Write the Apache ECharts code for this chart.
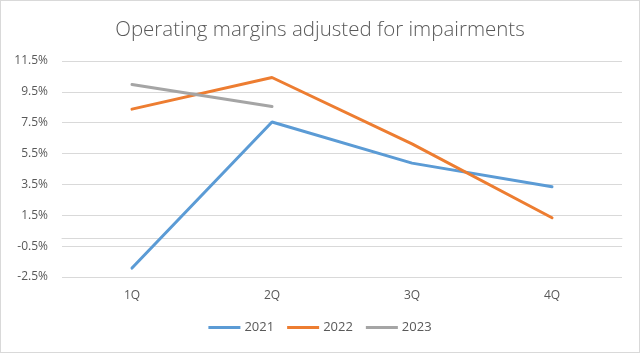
<!DOCTYPE html>
<html><head><meta charset="utf-8">
<script src="https://cdn.jsdelivr.net/npm/echarts@6/dist/echarts.min.js"></script>
<style>html,body{margin:0;padding:0;background:#fff}#c{width:640px;height:353px;box-sizing:border-box;border:1px solid #d9d9d9}</style>
</head><body><div id="c"></div>
<script>
var categories = ['1Q','2Q','3Q','4Q'];
var s2021 = [-1.92, 7.55, 4.88, 3.35];
var s2022 = [8.38, 10.43, 6.13, 1.34];
var s2023 = [9.98, 8.55, null, null];
var seriesNames = ['2021','2022','2023'];
var colors = ['#5B9BD5','#ED7D31','#A5A5A5'];
var font = 'Open Sans';
var chart = echarts.init(document.getElementById('c'));
function mk(name, data, color){
  return {name:name, type:'line', data:data, symbol:'none', smooth:false,
    lineStyle:{width:3, color:color, cap:'round'}, itemStyle:{color:color}, connectNulls:false};
}
chart.setOption({
  animation:false,
  title:{text:'Operating margins adjusted for impairments', left:'center', top:14,
    textStyle:{fontFamily:font, fontWeight:300, fontSize:20.5, color:'#595959'}},
  grid:{left:61, right:17, top:60, bottom:75, containLabel:false},
  legend:{bottom:13, left:'center', itemWidth:32, itemHeight:3, itemGap:13,
    icon:'rect', textStyle:{fontFamily:font, fontSize:13, color:'#595959', padding:[0,0,0,-1]},
    data:seriesNames},
  xAxis:{type:'category', data:categories, boundaryGap:true,
    axisLine:{lineStyle:{color:'#d9d9d9'}}, axisTick:{show:false},
    axisLabel:{fontFamily:font, fontSize:12, color:'#595959', margin:13}},
  yAxis:{type:'value', min:-2.5, max:11.5, interval:2,
    axisLine:{show:false}, axisTick:{show:false},
    splitLine:{lineStyle:{color:'#d9d9d9', width:1}},
    axisLabel:{fontFamily:font, fontSize:12, color:'#595959', margin:14,
      formatter:function(v){return v.toFixed(1)+'%';}}},
  series:[mk(seriesNames[0], s2021, colors[0]), mk(seriesNames[1], s2022, colors[1]), mk(seriesNames[2], s2023, colors[2])]
});
</script></body></html>
